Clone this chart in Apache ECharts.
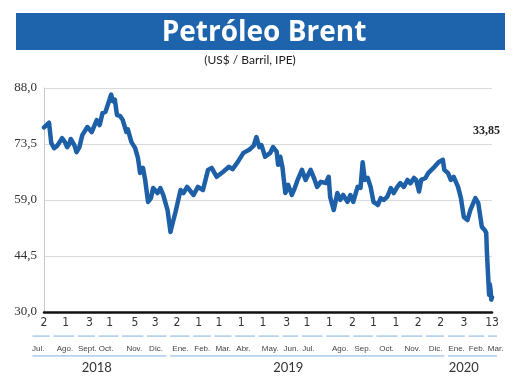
<!DOCTYPE html>
<html>
<head>
<meta charset="utf-8">
<script src="https://cdn.jsdelivr.net/npm/echarts@6/dist/echarts.min.js"></script>
<style>
html,body{margin:0;padding:0;background:#fff;}
#chart{width:520px;height:383px;}
</style>
</head>
<body>
<div id="chart"></div>
<script>
// ---- DATA ----
const dates = [
'2018-07-02','2018-07-05','2018-07-09','2018-07-12','2018-07-16','2018-07-20','2018-07-25','2018-07-27','2018-07-31',
'2018-08-03','2018-08-06','2018-08-08','2018-08-13','2018-08-16','2018-08-20','2018-08-24','2018-08-31',
'2018-09-06','2018-09-13','2018-09-17','2018-09-21','2018-09-25','2018-09-27',
'2018-10-03','2018-10-05','2018-10-08','2018-10-11','2018-10-15','2018-10-19','2018-10-24','2018-10-26','2018-10-31',
'2018-11-05','2018-11-09','2018-11-12','2018-11-16','2018-11-19','2018-11-23','2018-11-27','2018-11-30',
'2018-12-06','2018-12-10','2018-12-14','2018-12-20','2018-12-24','2018-12-27','2018-12-31',
'2019-01-07','2019-01-11','2019-01-16','2019-01-25','2019-01-31',
'2019-02-07','2019-02-14','2019-02-19','2019-02-26',
'2019-03-07','2019-03-15','2019-03-20','2019-03-27',
'2019-04-04','2019-04-12','2019-04-18','2019-04-22','2019-04-26','2019-04-29',
'2019-05-04','2019-05-11','2019-05-15','2019-05-20','2019-05-22','2019-05-25','2019-05-28',
'2019-06-01','2019-06-05','2019-06-10','2019-06-14','2019-06-18','2019-06-24','2019-06-29',
'2019-07-06','2019-07-10','2019-07-15','2019-07-20','2019-07-27','2019-07-31',
'2019-08-02','2019-08-07','2019-08-12','2019-08-16','2019-08-20','2019-08-26','2019-08-30',
'2019-09-03','2019-09-09','2019-09-13','2019-09-16','2019-09-19','2019-09-23','2019-09-27',
'2019-10-01','2019-10-07','2019-10-11','2019-10-15','2019-10-20','2019-10-25','2019-10-29',
'2019-11-03','2019-11-07','2019-11-12','2019-11-17','2019-11-21','2019-11-26','2019-11-29',
'2019-12-03','2019-12-06','2019-12-12','2019-12-16','2019-12-23','2019-12-30',
'2020-01-05','2020-01-07','2020-01-12','2020-01-16','2020-01-20','2020-01-26','2020-01-30',
'2020-02-03','2020-02-08','2020-02-12','2020-02-19','2020-02-23','2020-02-28',
'2020-03-03','2020-03-05','2020-03-06','2020-03-09','2020-03-10','2020-03-11','2020-03-12','2020-03-13'
];
const prices = [
77.8,78.3,79.0,73.8,72.4,73.0,74.4,75.0,74.0,
72.7,73.5,74.8,73.2,71.4,72.7,75.8,77.9,
76.6,79.7,78.4,81.5,81.8,82.0,
86.3,84.6,85.0,81.0,80.8,79.7,76.6,77.3,74.0,
72.5,69.9,66.0,67.3,64.2,58.5,59.5,62.1,
60.8,62.1,60.3,56.4,50.7,53.0,55.9,
61.6,60.8,62.4,60.3,62.4,
61.6,66.8,67.3,65.0,
66.3,67.6,67.0,68.8,
71.2,72.0,73.0,75.3,72.7,73.2,
70.2,71.2,72.7,71.5,68.1,70.2,67.5,
60.8,62.9,60.3,62.1,64.2,66.8,64.2,
66.8,65.0,62.4,63.7,63.4,65.0,
59.8,56.4,60.8,59.0,60.3,58.5,60.3,
58.5,62.4,62.1,68.8,64.2,64.7,62.4,
58.5,57.7,59.5,59.0,59.8,62.1,60.8,
62.4,63.4,62.4,64.2,63.3,64.7,64.2,
61.2,64.2,64.7,66.0,67.3,68.8,
69.4,66.8,66.0,64.2,65.0,62.4,59.5,
54.6,53.8,56.4,59.5,58.2,52.0,
51.2,50.5,45.3,34.4,37.2,35.8,33.2,33.85
];
const yTicks = [30, 44.5, 59, 73.5, 88];
const tickDates = ['2018-07-02','2018-08-01','2018-09-03','2018-10-01','2018-11-05','2018-12-03',
'2019-01-02','2019-02-01','2019-03-01','2019-04-01','2019-05-01','2019-06-03','2019-07-01','2019-08-01',
'2019-09-02','2019-10-01','2019-11-01','2019-12-02','2020-01-02','2020-02-03','2020-03-13'];
const tickLabels = ['2','1','3','1','5','3','2','1','1','1','1','3','1','1','2','1','1','2','2','3','13'];
const monthNames = ['Jul.','Ago.','Sept.','Oct.','Nov.','Dic.','Ene.','Feb.','Mar.','Abr.','May.','Jun.',
'Jul.','Ago.','Sep.','Oct.','Nov.','Dic.','Ene.','Feb.','Mar.'];
const monthNamePos = ['2018-06-24','2018-07-31','2018-08-31','2018-09-26','2018-11-04','2018-12-04',
'2019-01-07','2019-02-06','2019-03-07','2019-04-04','2019-05-11','2019-06-09','2019-07-03','2019-08-16',
'2019-09-16','2019-10-19','2019-11-24','2019-12-26','2020-01-24','2020-02-21','2020-03-18'];
const monthYears = ['2018','2018','2018','2018','2018','2018','2019','2019','2019','2019','2019','2019',
'2019','2019','2019','2019','2019','2019','2020','2020','2020'];
const years = ['2018','2019','2020'];
const yearLabelPos = ['2018-09-13','2019-06-05','2020-02-03'];
const titleText = 'Petróleo Brent';
const subtitleText = '(US$ / Barril, IPE)';

// ---- helpers ----
const DAY = 86400000;
const t = s => { const p = s.split('-'); return Date.UTC(+p[0], +p[1]-1, +p[2]); };
const fmt = (v, d) => v.toFixed(d).replace('.', ',');
const xStart = dates[0], xEnd = dates[dates.length-1];
const G0L = 44, G0R = 28, G0T = 88, G0B = 71;
const spanDays = (t(xEnd) - t(xStart)) / DAY;
const pxPerDay = (520 - G0L - G0R) / spanDays;
const extL = 30, extR = 20;
const g1Left = G0L - extL * pxPerDay;
const g1Right = G0R - extR * pxPerDay;
const g1Min = t(xStart) - extL * DAY, g1Max = t(xEnd) + extR * DAY;

const lineData = dates.map((d, i) => [t(d), prices[i]]);
const tickTs = tickDates.map(t);
const monthTs = monthNamePos.map(t);
const yearTs = yearLabelPos.map(t);
const lookup = (arr, labels) => v => { for (let i = 0; i < arr.length; i++) if (Math.abs(arr[i]-v) < DAY/2) return labels[i]; return ''; };

// separator segments
const gapD = 2.5;
const segs = monthTs.map((m, i) => {
  const l = i === 0 ? m - 8*DAY : (monthTs[i-1] + m)/2 + gapD*DAY;
  const r = i === monthTs.length-1 ? m + 2*DAY : (m + monthTs[i+1])/2 - gapD*DAY;
  return [l, r];
});
const monthSegData = segs.map(s => ({coords: [[s[0], 1], [s[1], 1]]}));
const yearSegData = years.map(y => {
  const idx = monthYears.map((yy, i) => yy === y ? i : -1).filter(i => i >= 0);
  return {coords: [[segs[idx[0]][0], 0], [segs[idx[idx.length-1]][1], 0]]};
});

const narrowFont = '"Liberation Sans","Arial",sans-serif';
const hiddenAxisBits = {axisLine: {show: false}, axisTick: {show: false}, splitLine: {show: false}};
const chart = echarts.init(document.getElementById('chart'), null, {renderer: 'canvas'});
chart.setOption({
  animation: false,
  backgroundColor: '#fff',
  grid: [
    {left: G0L, right: G0R, top: G0T, bottom: G0B},
    {left: g1Left, right: g1Right, top: 336, height: 20}
  ],
  xAxis: [
    {gridIndex: 0, type: 'value', min: t(xStart), max: t(xEnd),
     axisLine: {show: true, onZero: false, lineStyle: {color: '#111', width: 2.5}},
     axisTick: {show: false}, axisLabel: {show: false}, splitLine: {show: false}},
    Object.assign({gridIndex: 1, type: 'value', position: 'top', min: g1Min, max: g1Max,
     axisLabel: {customValues: tickTs, formatter: lookup(tickTs, tickLabels), margin: 7,
       fontFamily: '"DejaVu Sans Condensed","Liberation Sans",sans-serif', fontSize: 12, color: '#333'}}, hiddenAxisBits),
    Object.assign({gridIndex: 1, type: 'value', position: 'top', offset: -20, min: g1Min, max: g1Max,
     axisLabel: {customValues: monthTs, formatter: lookup(monthTs, monthNames), margin: 3,
       fontFamily: narrowFont, fontSize: 8, color: '#444'}}, hiddenAxisBits),
    Object.assign({gridIndex: 1, type: 'value', position: 'bottom', min: g1Min, max: g1Max,
     axisLabel: {customValues: yearTs, formatter: lookup(yearTs, years), margin: 5,
       fontFamily: '"Lato","Open Sans",sans-serif', fontSize: 13, color: '#333'}}, hiddenAxisBits)
  ],
  yAxis: [
    {gridIndex: 0, type: 'value', min: 30, max: 88,
     axisLine: {show: true, lineStyle: {color: '#c8c8c8', width: 1}},
     axisTick: {show: false, customValues: yTicks},
     axisLabel: {customValues: yTicks, formatter: v => fmt(v, 1), margin: 7,
       fontFamily: '"Liberation Serif","DejaVu Serif",serif', fontSize: 13, color: '#333'},
     splitLine: {show: true, lineStyle: {color: '#d9d9d9', width: 1.2}}},
    {gridIndex: 1, type: 'value', min: 0, max: 1, show: false}
  ],
  series: [
    {type: 'line', xAxisIndex: 0, yAxisIndex: 0, data: lineData, showSymbol: false,
     lineStyle: {color: '#1e60a8', width: 4.5, join: 'round', cap: 'round'}, z: 5},
    {type: 'lines', coordinateSystem: 'cartesian2d', xAxisIndex: 1, yAxisIndex: 1, silent: true,
     data: monthSegData, lineStyle: {color: '#9fc3e6', width: 1.5, opacity: 1}},
    {type: 'lines', coordinateSystem: 'cartesian2d', xAxisIndex: 1, yAxisIndex: 1, silent: true,
     data: yearSegData, lineStyle: {color: '#9fc3e6', width: 1.5, opacity: 1}}
  ],
  graphic: [
    {type: 'rect', left: 16, top: 13, shape: {width: 489, height: 37}, style: {fill: '#1e64ad'}},
    {type: 'text', x: 264, y: 33, style: {text: titleText, fill: '#fff', align: 'center', verticalAlign: 'middle',
      font: 'bold 28px "Open Sans","Lato",sans-serif'}},
    {type: 'text', x: 250, y: 60, style: {text: subtitleText, fill: '#222', align: 'center', verticalAlign: 'middle',
      font: '12px "Lato","Open Sans",sans-serif'}},
    {type: 'text', x: 500, y: 131, style: {text: fmt(prices[prices.length-1], 2), fill: '#222', align: 'right', verticalAlign: 'middle',
      font: 'bold 12px "Liberation Serif","DejaVu Serif",serif'}}
  ]
});
</script>
</body>
</html>
